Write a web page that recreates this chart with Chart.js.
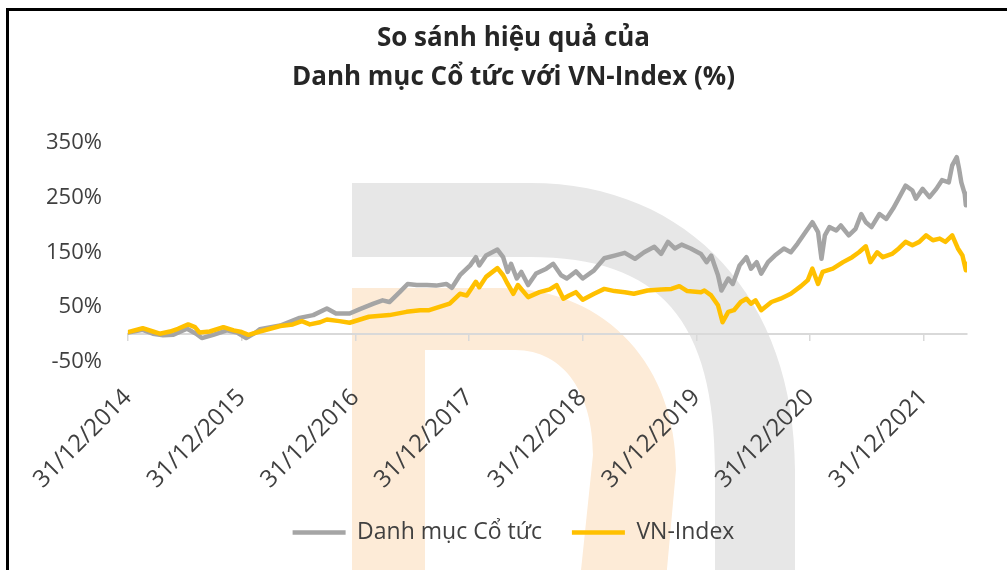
<!DOCTYPE html>
<html>
<head>
<meta charset="utf-8">
<script src="https://cdn.jsdelivr.net/npm/chart.js@4.4.0/dist/chart.umd.min.js"></script>
<style>
  body { margin: 0; background: #fff; }
  #wrap { position: relative; width: 1007px; height: 570px; overflow: hidden; }
  #frame { position: absolute; left: 6px; top: 8px; width: 1100px; height: 700px;
           border-top: 3px solid #000; border-left: 3px solid #000; pointer-events: none; }
  canvas { display: block; }
</style>
</head>
<body>
<div id="wrap">
  <canvas id="chart" width="1007" height="570"></canvas>
  <div id="frame"></div>
</div>
<script>
// years after 31/12/2014
const tickYears = [0, 1, 2, 3, 4, 5, 6, 7];
const tickLabels = ["31/12/2014", "31/12/2015", "31/12/2016", "31/12/2017",
  "31/12/2018", "31/12/2019", "31/12/2020", "31/12/2021"];
const yTicks = [-50, 50, 150, 250, 350];
const titleLines = ["So sánh hiệu quả của", "Danh mục Cổ tức với VN-Index (%)"];

// Danh mục Cổ tức (%)
const portfolioYears = [0.00, 0.13, 0.22, 0.31, 0.40, 0.52, 0.60, 0.65, 0.75, 0.87, 0.96,
  1.04, 1.13, 1.16, 1.34, 1.51, 1.63, 1.75, 1.83, 1.95, 2.04, 2.16, 2.24, 2.30, 2.39,
  2.46, 2.54, 2.63, 2.71, 2.80, 2.85, 2.92, 3.01, 3.06, 3.09, 3.15, 3.25, 3.30, 3.34,
  3.37, 3.42, 3.46, 3.52, 3.59, 3.68, 3.74, 3.81, 3.86, 3.94, 4.00, 4.10, 4.19, 4.28,
  4.37, 4.46, 4.54, 4.63, 4.69, 4.75, 4.81, 4.87, 4.95, 5.04, 5.09, 5.13, 5.16, 5.19,
  5.22, 5.28, 5.32, 5.38, 5.44, 5.48, 5.53, 5.57, 5.63, 5.69, 5.77, 5.83, 5.89, 5.96,
  6.02, 6.07, 6.10, 6.13, 6.17, 6.23, 6.27, 6.34, 6.40, 6.45, 6.49, 6.54, 6.61, 6.67,
  6.73, 6.77, 6.84, 6.90, 6.93, 6.99, 7.05, 7.11, 7.16, 7.22, 7.25, 7.29, 7.31, 7.33,
  7.36, 7.37, 7.38];
const portfolioReturns = [3, 8, 1, -2, -1, 10, 1, -7, -1, 7, 3,
  -7, 4, 9, 16, 30, 35, 47, 38, 38, 46, 56, 62, 59, 77,
  92, 90, 90, 89, 92, 85, 108, 126, 141, 126, 144, 155, 141, 114,
  129, 102, 114, 90, 111, 120, 129, 108, 102, 115, 102, 117, 139, 144,
  149, 138, 150, 160, 147, 169, 157, 164, 157, 147, 132, 144, 126, 108,
  80, 102, 92, 126, 141, 120, 132, 111, 132, 144, 157, 150, 166, 187,
  205, 187, 138, 181, 196, 190, 199, 181, 193, 220, 205, 196, 220, 211,
  230, 245, 272, 263, 248, 266, 251, 266, 282, 278, 309, 324, 303, 278,
  257, 236, 257];

// VN-Index (%)
const vnYears = [0.00, 0.13, 0.22, 0.28, 0.37, 0.44, 0.53, 0.59, 0.63, 0.72, 0.84, 0.93,
  1.00, 1.06, 1.16, 1.25, 1.34, 1.45, 1.53, 1.60, 1.69, 1.75, 1.86, 1.95, 2.12, 2.30,
  2.45, 2.57, 2.65, 2.74, 2.83, 2.92, 2.98, 3.06, 3.09, 3.15, 3.25, 3.30, 3.33, 3.39,
  3.43, 3.52, 3.62, 3.71, 3.77, 3.83, 3.88, 3.94, 4.00, 4.10, 4.19, 4.28, 4.37, 4.45,
  4.57, 4.69, 4.78, 4.85, 4.92, 5.04, 5.07, 5.13, 5.19, 5.23, 5.28, 5.33, 5.39, 5.44,
  5.48, 5.52, 5.57, 5.66, 5.74, 5.83, 5.92, 5.98, 6.02, 6.07, 6.11, 6.20, 6.29, 6.37,
  6.43, 6.49, 6.53, 6.59, 6.64, 6.72, 6.78, 6.84, 6.90, 6.96, 7.02, 7.08, 7.14, 7.19,
  7.25, 7.30, 7.34, 7.37, 7.38];
const vnReturns = [4, 11, 5, 1, 5, 10, 18, 13, 3, 5, 13, 7,
  4, -1, 5, 10, 15, 18, 24, 18, 22, 27, 24, 21, 32, 35,
  41, 44, 44, 50, 56, 74, 71, 96, 86, 105, 121, 108, 96, 74,
  90, 68, 77, 82, 90, 65, 71, 77, 63, 74, 83, 79, 77, 74,
  80, 82, 83, 88, 79, 77, 80, 71, 53, 22, 41, 44, 59, 65,
  56, 62, 44, 59, 65, 74, 88, 99, 120, 92, 114, 120, 132, 141,
  150, 161, 132, 150, 141, 147, 157, 169, 163, 169, 181, 172, 175, 169,
  181, 157, 144, 117, 129];

const FONT = "'Open Sans', sans-serif";
const TEXT = "#404040";

// faint "D" logo behind the plot
const watermark = {
  id: "watermark",
  beforeDraw(chart) {
    const ctx = chart.ctx;
    ctx.save();
    ctx.fillStyle = "#E7E7E7";
    ctx.beginPath();
    ctx.moveTo(352, 183);
    ctx.lineTo(530, 183);
    ctx.bezierCurveTo(690, 183, 795, 300, 795, 470);
    ctx.lineTo(795, 580);
    ctx.lineTo(715, 580);
    ctx.lineTo(715, 470);
    ctx.bezierCurveTo(715, 320, 660, 257, 530, 257);
    ctx.lineTo(352, 257);
    ctx.closePath();
    ctx.fill();

    ctx.fillStyle = "#FDEBD7";
    ctx.beginPath();
    ctx.moveTo(352, 288);
    ctx.lineTo(500, 288);
    ctx.bezierCurveTo(610, 288, 676, 370, 676, 470);
    ctx.lineTo(666, 580);
    ctx.lineTo(352, 580);
    ctx.closePath();
    ctx.moveTo(425, 350);
    ctx.lineTo(515, 350);
    ctx.bezierCurveTo(565, 350, 593, 395, 593, 455);
    ctx.lineTo(580, 580);
    ctx.lineTo(425, 580);
    ctx.closePath();
    ctx.fill("evenodd");
    ctx.restore();
  }
};

const setYearTicks = (scale) => {
  scale.ticks = tickYears.map((v) => ({ value: v }));
};

new Chart(document.getElementById("chart"), {
  type: "line",
  data: {
    datasets: [
      {
        label: "Danh mục Cổ tức",
        data: portfolioYears.map((t, i) => ({ x: t, y: portfolioReturns[i] })),
        borderColor: "#A5A5A5",
        backgroundColor: "#A5A5A5",
        borderWidth: 4.5,
        borderJoinStyle: "round",
        borderCapStyle: "round",
        pointRadius: 0,
        order: 1
      },
      {
        label: "VN-Index",
        data: vnYears.map((t, i) => ({ x: t, y: vnReturns[i] })),
        borderColor: "#FFC000",
        backgroundColor: "#FFC000",
        borderWidth: 4.5,
        borderJoinStyle: "round",
        borderCapStyle: "round",
        pointRadius: 0,
        order: 0
      }
    ]
  },
  options: {
    responsive: false,
    animation: false,
    layout: { padding: { left: 20, right: 0, top: 0, bottom: 16 } },
    plugins: {
      title: {
        display: true,
        text: titleLines,
        color: "#262626",
        font: { family: FONT, size: 26, weight: "bold", lineHeight: 1.5 },
        padding: { top: 19, bottom: 46 }
      },
      legend: {
        position: "bottom",
        labels: {
          usePointStyle: true,
          pointStyle: "line",
          pointStyleWidth: 53,
          color: TEXT,
          font: { family: FONT, size: 23 },
          padding: 30,
          sort: (a, b) => a.datasetIndex - b.datasetIndex
        }
      },
      tooltip: { enabled: false }
    },
    scales: {
      x: {
        type: "linear",
        min: 0,
        max: 7.38,
        afterBuildTicks: setYearTicks,
        afterFit: (scale) => {
          scale.height -= 25;
          scale.paddingRight = 40;
        },
        ticks: {
          callback: (v) => tickLabels[tickYears.indexOf(v)],
          minRotation: 45,
          maxRotation: 45,
          autoSkip: false,
          color: TEXT,
          font: { family: FONT, size: 24 },
          padding: 22
        },
        grid: { display: false, drawTicks: false },
        border: { display: false }
      },
      xZero: {
        type: "linear",
        position: { y: 0 },
        min: 0,
        max: 7.38,
        afterBuildTicks: setYearTicks,
        ticks: { display: false },
        grid: { drawOnChartArea: false, drawTicks: true, tickLength: 6, color: "#D9D9D9", lineWidth: 1.5 },
        border: { color: "#D9D9D9", width: 2 }
      },
      y: {
        min: -50,
        max: 350,
        afterBuildTicks: (scale) => {
          scale.ticks = yTicks.map((v) => ({ value: v }));
        },
        ticks: {
          callback: (v) => v + "%",
          color: TEXT,
          font: { family: FONT, size: 22 },
          padding: 26
        },
        grid: { display: false, drawTicks: false },
        border: { display: false }
      }
    }
  },
  plugins: [watermark]
});
</script>
</body>
</html>
